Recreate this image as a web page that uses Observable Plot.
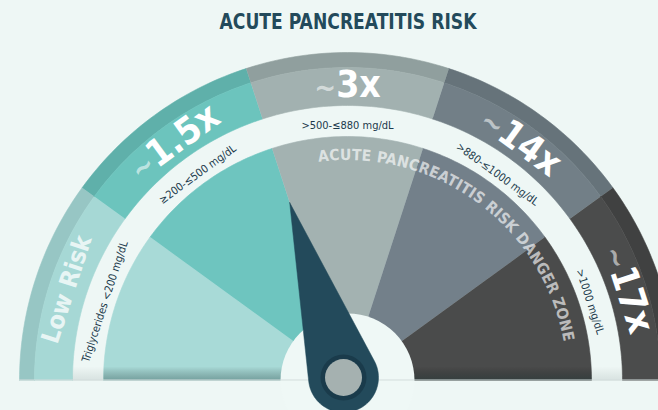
<!DOCTYPE html>
<html><head><meta charset="utf-8">
<script src="https://cdn.jsdelivr.net/npm/d3@7"></script>
<script src="https://cdn.jsdelivr.net/npm/@observablehq/plot@0.6"></script>
<style>
html,body{margin:0;padding:0;background:#eef7f5;}
#chart svg{display:block;background:#eef7f5;}
#chart svg text{font-stretch:condensed;}
</style></head><body><div id="chart"></div>
<script>
// ---- data ----
const title = "ACUTE PANCREATITIS RISK";
const riskLabels = ["Low Risk", "~1.5x", "~3x", "~14x", "~17x"];
const rangeLabels = ["Triglycerides <200 mg/dL", "≥200-≤500 mg/dL", ">500-≤880 mg/dL", ">880-≤1000 mg/dL", ">1000 mg/dL"];
const segmentSpans = [1, 1, 1, 1, 1];
const needleValue = [0.405]; // share of the dial (0 = left, 1 = right)
const dangerText = "ACUTE PANCREATITIS RISK DANGER ZONE";

// ---- styles ----
const bg = "#eef7f5";
const rimColors = ["#97c6c4", "#5fb0aa", "#909f9e", "#66737a", "#404141"];
const bandColors = ["#a6d8d5", "#6cc4bd", "#a2b1b0", "#727f87", "#4b4c4c"];
const wedgeColors = ["#a8dad7", "#6ec5bf", "#a3b2b1", "#73808a", "#4a4b4b"];
const navy = "#234a5b";
const FONT = "'DejaVu Sans Condensed', 'DejaVu Sans', sans-serif";

// ---- layout ----
const W = 658, H = 410, CX = 347, CY = 380;
const R = {outer: 328, rim: 313, band: 275, wedge: 244, hub: 67, rangeText: 255, riskText: 295, dangerText: 220};
const pivot = {x: -4, y: 3}, needleLen = 183, needleBase = 35;

const toRad = Math.PI / 180;
const pt = (r, a, c = {x: 0, y: 0}) => ({x: c.x - r * Math.cos(a * toRad), y: c.y + r * Math.sin(a * toRad)});
const total = d3.sum(segmentSpans);
const bounds = [0, ...d3.cumsum(segmentSpans)].map(v => 180 * v / total);
function arc(r, a0, a1, step = 1) {
  const n = Math.max(2, Math.ceil(Math.abs(a1 - a0) / step));
  return d3.range(n + 1).map(i => pt(r, a0 + (a1 - a0) * i / n));
}
function ringPoly(r0, r1, a0, a1) {
  return arc(r1, a0, a1).concat(r0 > 0 ? arc(r0, a1, a0) : [{x: 0, y: 0}]);
}

const sectors = [];
riskLabels.forEach((lab, i) => {
  const a0 = bounds[i], a1 = bounds[i + 1];
  [["rim", R.rim, R.outer, rimColors[i]], ["band", R.band, R.rim, bandColors[i]], ["wedge", 0, R.wedge, wedgeColors[i]]]
    .forEach(([k, r0, r1, c]) => ringPoly(r0, r1, a0, a1).forEach(p => sectors.push({...p, id: k + i, color: c})));
});
const shadeWedge = ringPoly(0, R.wedge, 0, 180).map(p => ({...p, id: "sw"}));
const shadeRing = ringPoly(R.wedge, R.band, 0, 180).map(p => ({...p, id: "sr"}));

const mid = i => (bounds[i] + bounds[i + 1]) / 2;
const rangeRows = rangeLabels.map((t, i) => ({...pt(R.rangeText, mid(i)), text: t, rot: mid(i) - 90}));
const riskRows = riskLabels.map((t, i) => ({...pt(R.riskText, mid(i)), text: t, rot: mid(i) - 90, i}));

// needle
const na = 180 * needleValue[0];
const tip = pt(needleLen, na, pivot);
const tA = Math.acos(needleBase / needleLen) / toRad;
const needlePts = [tip, ...d3.range(0, 73).map(i => pt(needleBase, na + tA + (360 - 2 * tA) * i / 72, pivot)), tip];

// custom marks
function defsMark(index, scales) {
  const g = d3.create("svg:g");
  const lg = g.append("defs").append("linearGradient").attr("id", "shade")
    .attr("gradientUnits", "userSpaceOnUse").attr("x1", 0).attr("x2", 0)
    .attr("y1", scales.y(14)).attr("y2", scales.y(0));
  lg.append("stop").attr("offset", 0).attr("stop-color", "#000").attr("stop-opacity", 0);
  lg.append("stop").attr("offset", 1).attr("stop-color", "#0a2a2a").attr("stop-opacity", 0.33);
  return g.node();
}
function dangerMark(index, scales) {
  const sx = scales.x, sy = scales.y;
  const r = R.dangerText, a0 = 82.6, a1 = 170;
  const p0 = pt(r, a0), p1 = pt(r, a1);
  const rp = Math.abs(sx(r) - sx(0));
  const g = d3.create("svg:g");
  g.append("path").attr("id", "dangerArc").attr("fill", "none")
    .attr("d", `M${sx(p0.x)},${sy(p0.y)}A${rp},${rp} 0 0 1 ${sx(p1.x)},${sy(p1.y)}`);
  g.append("text").attr("font-family", FONT).attr("font-weight", "bold").attr("font-size", 15.5)
    .attr("text-anchor", "start")
    .attr("fill", "#ffffff").attr("fill-opacity", 0.64)
    .append("textPath").attr("href", "#dangerArc").attr("startOffset", 0)
    .attr("textLength", rp * (a1 - a0) * toRad).attr("lengthAdjust", "spacing")
    .text(dangerText);
  return g.node();
}

const chart = Plot.plot({
  width: W, height: H,
  margin: 0,
  x: {domain: [-CX, W - CX], range: [0, W], axis: null},
  y: {domain: [CY - H, CY], range: [H, 0], axis: null},
  color: {type: "identity"},
  style: {background: bg},
  marks: [
    defsMark,
    Plot.line(sectors, {x: "x", y: "y", z: "id", fill: "color", stroke: "color", strokeWidth: 0.6}),
    Plot.line(shadeWedge, {x: "x", y: "y", z: "id", fill: "url(#shade)", stroke: "none"}),
    Plot.line(shadeRing, {x: "x", y: "y", z: "id", fill: "url(#shade)", fillOpacity: 0.3, stroke: "none"}),
    Plot.dot([{x: 0, y: 0}], {x: "x", y: "y", r: R.hub, fill: "#eff8f6", stroke: "none"}),
    Plot.ruleY([0.5], {x1: -R.outer, x2: R.outer, stroke: "#d3dddc", strokeWidth: 1}),
    dangerMark,
    Plot.text(rangeRows, {x: "x", y: "y", text: "text", rotate: "rot", fontSize: 11, fontFamily: FONT,
      fill: "#1c3a4c", textAnchor: "middle", lineAnchor: "middle"}),
    Plot.text(riskRows.filter(d => d.i === 0), {x: "x", y: "y", text: "text", rotate: "rot", fontSize: 25, fontWeight: "bold",
      fontFamily: FONT, fill: "#ffffff", fillOpacity: 0.75, textAnchor: "middle", lineAnchor: "middle"}),
    Plot.text(riskRows.filter(d => d.i > 0), {x: "x", y: "y", text: "text", rotate: "rot", fontSize: 37, fontWeight: "bold",
      fontFamily: FONT, fill: "#ffffff", textAnchor: "middle", lineAnchor: "middle"}),
    Plot.line(needlePts, {x: "x", y: "y", fill: navy, stroke: navy, strokeWidth: 0.5}),
    Plot.dot([pivot], {x: "x", y: "y", r: 23, fill: "#1a3b4b"}),
    Plot.dot([pivot], {x: "x", y: "y", r: 18.5, fill: "#a5b1b0"}),
    Plot.text([title], {frameAnchor: "top", dx: 18.5, dy: 28.3, lineAnchor: "bottom", fontSize: 21.5, fontWeight: "bold",
      fontFamily: FONT, fill: navy})
  ]
});

// title width and lighter tilde (post-styling of the rendered texts)
const ns = "http://www.w3.org/2000/svg";
chart.querySelectorAll("text").forEach(t => {
  const s = t.textContent;
  if (s === title && !t.querySelector("textPath")) {
    t.setAttribute("textLength", 257); t.setAttribute("lengthAdjust", "spacingAndGlyphs");
  } else if (s.startsWith("~") && riskLabels.includes(s)) {
    t.textContent = "";
    const a = document.createElementNS(ns, "tspan");
    a.setAttribute("font-size", "29"); a.setAttribute("fill-opacity", "0.55"); a.textContent = "~";
    const b = document.createElementNS(ns, "tspan");
    b.textContent = s.slice(1);
    t.append(a, b);
  }
});
document.getElementById("chart").append(chart);
</script></body></html>
